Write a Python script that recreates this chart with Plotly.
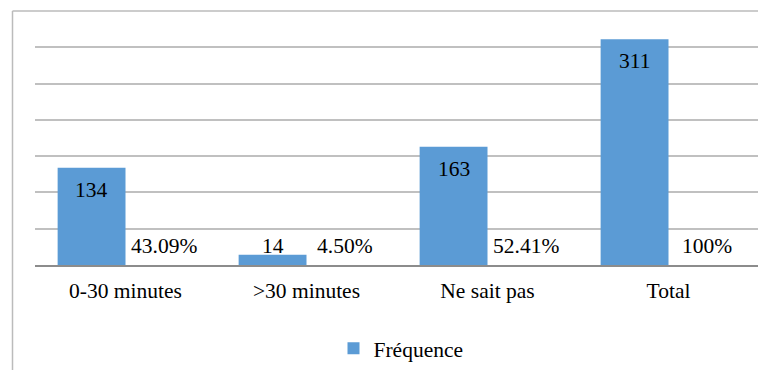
import plotly.graph_objects as go

categories = ["0-30 minutes", ">30 minutes", "Ne sait pas", "Total"]
frequence = [134, 14, 163, 311]
pourcentages = ["43.09%", "4.50%", "52.41%", "100%"]
y_ticks = [0, 50, 100, 150, 200, 250, 300]

FONT = "Liberation Serif, Times New Roman, serif"
FS = 21.5
BLUE = "#5B9BD5"

# page body adds an 8px offset; compensate in margins
OFF = 8
W, H = 766, 370
L, R, T, B = 27, 15, 3, 112.5
plot_w = W - L - R
plot_h = H - T - B
ymax = 350
px_per_unit = plot_h / ymax


def px_to_paper_x(sx):
    return (sx - OFF - L) / plot_w


def px_to_paper_y(sy):
    top = OFF + T
    return 1 - (sy - top) / plot_h


fig = go.Figure()
fig.add_trace(go.Bar(
    x=categories, y=frequence, name="Fréquence",
    marker=dict(color=BLUE, line=dict(width=0)),
    width=0.375, offset=-0.375,
))

annotations = []
for c, v, p in zip(categories, frequence, pourcentages):
    ys = -22 if v * px_per_unit > 30 else 9
    annotations.append(dict(
        x=c, y=v, xref="x", yref="y", text=str(v), showarrow=False,
        xshift=-34, yshift=ys, yanchor="middle", xanchor="center",
        font=dict(family=FONT, size=FS, color="#000000"),
    ))
    annotations.append(dict(
        x=c, y=0, xref="x", yref="y", text=p, showarrow=False,
        xshift=38, yshift=19.5, yanchor="middle", xanchor="center",
        font=dict(family=FONT, size=FS, color="#000000"),
    ))

fx = px_to_paper_x(12.5)
fy_top = px_to_paper_y(11)
shapes = [
    dict(type="line", xref="paper", yref="paper", x0=fx, x1=1.05,
         y0=fy_top, y1=fy_top, line=dict(color="#BBBBBB", width=1.5)),
    dict(type="line", xref="paper", yref="paper", x0=fx, x1=fx,
         y0=fy_top, y1=-0.6, line=dict(color="#BBBBBB", width=1.5)),
]

fig.update_layout(
    width=W, height=H,
    margin=dict(l=L, r=R, t=T, b=B, pad=0),
    paper_bgcolor="white", plot_bgcolor="white",
    font=dict(family=FONT, size=FS, color="#000000"),
    bargap=0.25,
    showlegend=True,
    legend=dict(orientation="h", x=0.5 + 4 / plot_w, xanchor="center",
                y=px_to_paper_y(349), yanchor="middle",
                font=dict(family=FONT, size=FS, color="#000000"),
                itemwidth=30, traceorder="normal"),
    xaxis=dict(showgrid=False, showline=True, linecolor="#8C8C8C", linewidth=1.5,
               ticks="", tickfont=dict(family=FONT, size=FS, color="#000000"),
               ticklabelstandoff=5),
    yaxis=dict(range=[0, ymax], tickvals=y_ticks[1:], showticklabels=False,
               showgrid=True, gridcolor="#C0C0C0", gridwidth=1.5, zeroline=False,
               showline=False, ticks=""),
    annotations=annotations,
    shapes=shapes,
)

fig.write_html("out.html")
